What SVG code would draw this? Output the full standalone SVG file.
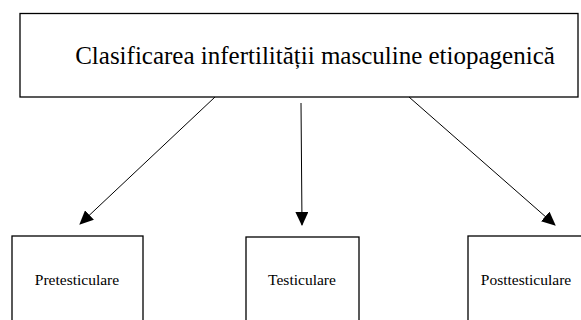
<svg xmlns="http://www.w3.org/2000/svg" width="581" height="320" viewBox="0 0 581 320">
<style>
.box{fill:#fff;stroke:#000;stroke-width:1.3}
.t{font-family:'Liberation Serif','DejaVu Serif',serif;fill:#000;text-anchor:middle}
.c{stroke:#000;stroke-width:1;fill:none;marker-end:url(#ah)}
</style>
<defs>
<marker id="ah" markerWidth="14" markerHeight="13" refX="13" refY="6.5" orient="auto" markerUnits="userSpaceOnUse">
<path d="M0,0 L14,6.5 L0,13 Z" fill="#000"/>
</marker>
</defs>
<rect width="581" height="320" fill="#fff"/>
<g id="root">
<rect class="box" x="20" y="13.5" width="558" height="83.5"/>
<text class="t" x="315" y="64" font-size="25">Clasificarea infertilității masculine etiopagenică</text>
</g>
<g id="pre">
<rect class="box" x="12" y="236" width="131" height="100"/>
<text class="t" x="77" y="285" font-size="15.5">Pretesticulare</text>
</g>
<g id="test">
<rect class="box" x="246" y="237" width="113" height="100"/>
<text class="t" x="302" y="285" font-size="15.5">Testiculare</text>
</g>
<g id="post">
<rect class="box" x="468" y="236" width="130" height="100"/>
<text class="t" x="526" y="285" font-size="15.5">Posttesticulare</text>
</g>
<g id="connectors">
<line class="c" x1="215" y1="97" x2="80" y2="224"/>
<line class="c" x1="301" y1="103" x2="302" y2="225"/>
<line class="c" x1="409" y1="97" x2="555" y2="225"/>
</g>
</svg>
